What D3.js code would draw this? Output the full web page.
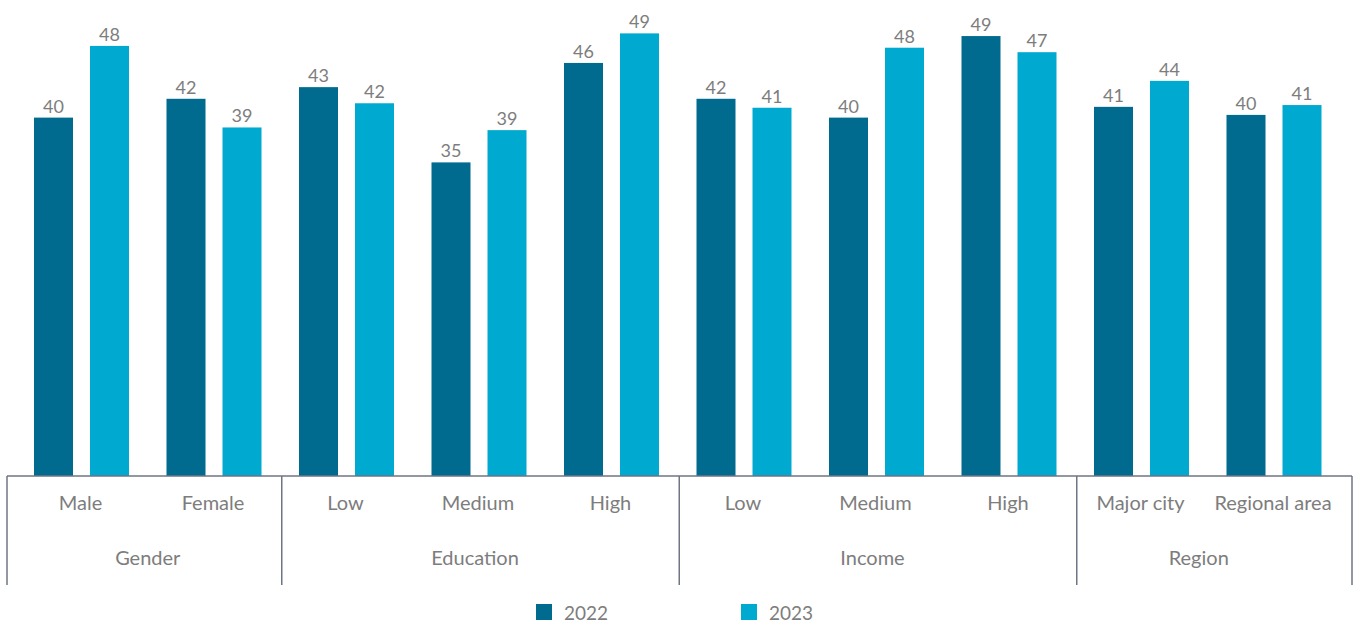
<!DOCTYPE html>
<html>
<head>
<meta charset="utf-8">
<script src="https://cdn.jsdelivr.net/npm/d3@7"></script>
<style>
  html, body { margin: 0; padding: 0; background: #ffffff; }
  svg { display: block; font-family: Lato, "Open Sans", sans-serif; font-weight: 400; }
</style>
</head>
<body>
<svg id="chart" width="1359" height="624"></svg>
<script>
// ---- data ----
const categories = ["Male", "Female", "Low", "Medium", "High", "Low", "Medium", "High", "Major city", "Regional area"];
const groups = ["Gender", "Education", "Income", "Region"];
const groupSizes = [2, 3, 3, 2];
const series = ["2022", "2023"];
const values2022 = [40.0, 42.1, 43.4, 35.0, 46.1, 42.1, 40.0, 49.1, 41.2, 40.3];
const values2023 = [48.0, 38.9, 41.6, 38.6, 49.4, 41.1, 47.8, 47.3, 44.1, 41.4];
const labels2022 = ["40", "42", "43", "35", "46", "42", "40", "49", "41", "40"];
const labels2023 = ["48", "39", "42", "39", "49", "41", "48", "47", "44", "41"];
const colors = ["#006b8f", "#00a9cf"];

// ---- layout ----
const svg = d3.select("#chart");
const baseY = 476;
const axisLeft = 7, axisRight = 1352;
const textColor = "#7d7d7d";
const lineColor = "#6e7584";

const slotIds = categories.map((c, i) => i);
const x = d3.scaleBand().domain(slotIds).range([15.25, 1340.25]).padding(0);
const x1 = d3.scaleBand().domain(series).range([18.75, 113.75]).paddingInner(17 / 56).paddingOuter(0);
const y = d3.scaleLinear().domain([0, 50]).range([baseY, baseY - 448]);

const rows = [];
categories.forEach((c, i) => {
  rows.push({ i, s: "2022", v: values2022[i], label: labels2022[i], color: colors[0] });
  rows.push({ i, s: "2023", v: values2023[i], label: labels2023[i], color: colors[1] });
});

// bars
svg.append("g").selectAll("rect").data(rows).join("rect")
  .attr("x", d => x(d.i) + x1(d.s))
  .attr("y", d => y(d.v))
  .attr("width", x1.bandwidth())
  .attr("height", d => baseY - y(d.v))
  .attr("fill", d => d.color);

// value labels
svg.append("g").selectAll("text").data(rows).join("text")
  .attr("x", d => x(d.i) + x1(d.s) + x1.bandwidth() / 2)
  .attr("y", d => y(d.v) - 5)
  .attr("text-anchor", "middle")
  .attr("font-size", 18)
  .attr("fill", textColor)
  .text(d => d.label);

// axis line
svg.append("line")
  .attr("x1", axisLeft).attr("x2", axisRight)
  .attr("y1", baseY).attr("y2", baseY)
  .attr("stroke", lineColor).attr("stroke-width", 1.5);

// group separators
let start = 0;
const seps = [axisLeft];
const groupInfo = [];
groupSizes.forEach((n, gi) => {
  const right = gi === groupSizes.length - 1 ? axisRight : x(start + n) + 1.5;
  const mid = (x(start) + x(start + n - 1) + x.bandwidth()) / 2;
  const shift = n === 3 ? -4 : (gi === groupSizes.length - 1 ? -9 : 0);
  groupInfo.push({ name: groups[gi], cx: mid + shift });
  seps.push(right);
  start += n;
});
svg.append("g").selectAll("line").data(seps).join("line")
  .attr("x1", d => d).attr("x2", d => d)
  .attr("y1", baseY).attr("y2", 585)
  .attr("stroke", lineColor).attr("stroke-width", 1.5);

// category labels
svg.append("g").selectAll("text").data(categories).join("text")
  .attr("x", (d, i) => x(i) + x.bandwidth() / 2 - 1)
  .attr("y", 510)
  .attr("text-anchor", "middle")
  .attr("font-size", 20)
  .attr("fill", textColor)
  .text(d => d);

// group labels
svg.append("g").selectAll("text").data(groupInfo).join("text")
  .attr("x", d => d.cx)
  .attr("y", 565)
  .attr("text-anchor", "middle")
  .attr("font-size", 20)
  .attr("fill", textColor)
  .text(d => d.name);

// legend
const legendX = [536, 741];
const lg = svg.append("g").selectAll("g").data(series).join("g")
  .attr("transform", (d, i) => `translate(${legendX[i]},604)`);
lg.append("rect").attr("width", 16).attr("height", 16).attr("fill", (d, i) => colors[i]);
lg.append("text").attr("x", 28).attr("y", 16)
  .attr("font-size", 19).attr("fill", textColor).text(d => d);
</script>
</body>
</html>
